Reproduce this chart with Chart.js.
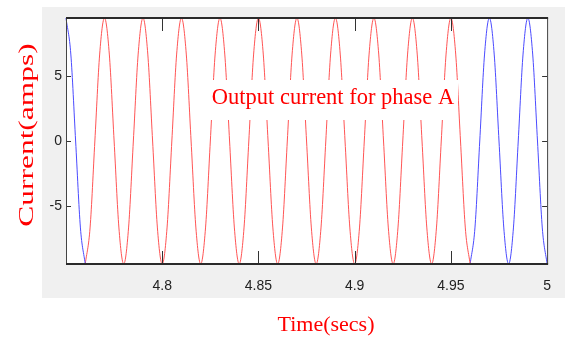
<!DOCTYPE html>
<html>
<head>
<meta charset="utf-8">
<script src="https://cdn.jsdelivr.net/npm/chart.js@4"></script>
<style>
  body { margin: 0; background: #fff; }
  #myChart { display: block; }
</style>
</head>
<body>
<canvas id="myChart" width="565" height="340"></canvas>
<script>
// Output current for phase A (50 Hz, ~9.45 A peak)
// one row = one period (0.02 s), sampled every 1/8 period
const time = [
  4.7500, 4.7525, 4.7550, 4.7575, 4.7600, 4.7625, 4.7650, 4.7675,
  4.7700, 4.7725, 4.7750, 4.7775, 4.7800, 4.7825, 4.7850, 4.7875,
  4.7900, 4.7925, 4.7950, 4.7975, 4.8000, 4.8025, 4.8050, 4.8075,
  4.8100, 4.8125, 4.8150, 4.8175, 4.8200, 4.8225, 4.8250, 4.8275,
  4.8300, 4.8325, 4.8350, 4.8375, 4.8400, 4.8425, 4.8450, 4.8475,
  4.8500, 4.8525, 4.8550, 4.8575, 4.8600, 4.8625, 4.8650, 4.8675,
  4.8700, 4.8725, 4.8750, 4.8775, 4.8800, 4.8825, 4.8850, 4.8875,
  4.8900, 4.8925, 4.8950, 4.8975, 4.9000, 4.9025, 4.9050, 4.9075,
  4.9100, 4.9125, 4.9150, 4.9175, 4.9200, 4.9225, 4.9250, 4.9275,
  4.9300, 4.9325, 4.9350, 4.9375, 4.9400, 4.9425, 4.9450, 4.9475,
  4.9500, 4.9525, 4.9550, 4.9575, 4.9600, 4.9625, 4.9650, 4.9675,
  4.9700, 4.9725, 4.9750, 4.9775, 4.9800, 4.9825, 4.9850, 4.9875,
  4.9900, 4.9925, 4.9950, 4.9975, 5.0000
];
const current = [
  9.45, 6.68, 0, -6.68, -9.45, -6.68, 0, 6.68,
  9.45, 6.68, 0, -6.68, -9.45, -6.68, 0, 6.68,
  9.45, 6.68, 0, -6.68, -9.45, -6.68, 0, 6.68,
  9.45, 6.68, 0, -6.68, -9.45, -6.68, 0, 6.68,
  9.45, 6.68, 0, -6.68, -9.45, -6.68, 0, 6.68,
  9.45, 6.68, 0, -6.68, -9.45, -6.68, 0, 6.68,
  9.45, 6.68, 0, -6.68, -9.45, -6.68, 0, 6.68,
  9.45, 6.68, 0, -6.68, -9.45, -6.68, 0, 6.68,
  9.45, 6.68, 0, -6.68, -9.45, -6.68, 0, 6.68,
  9.45, 6.68, 0, -6.68, -9.45, -6.68, 0, 6.68,
  9.45, 6.68, 0, -6.68, -9.45, -6.68, 0, 6.68,
  9.45, 6.68, 0, -6.68, -9.45, -6.68, 0, 6.68,
  9.45, 6.68, 0, -6.68, -9.45
];
// red part of the trace runs between these times, blue outside
const redStart = 4.76;
const redEnd = 4.96;

const xTicks = [4.8, 4.85, 4.9, 4.95, 5];
const xTickLabels = ['4.8', '4.85', '4.9', '4.95', '5'];
const yTicks = [-5, 0, 5];
const yTickLabels = ['-5', '0', '5'];
const xRange = [4.75, 5];
const yRange = [-9.45, 9.45];

const titleText = 'Output current for phase A';
const xTitle = 'Time(secs)';
const yTitle = 'Current(amps)';

const RED = 'rgb(255,85,85)';
const BLUE = 'rgb(75,75,255)';

function pts(from, to) {
  const out = [];
  for (let i = 0; i < time.length; i++) {
    if (time[i] >= from - 1e-9 && time[i] <= to + 1e-9) out.push({x: time[i], y: current[i]});
  }
  return out;
}

const lineStyle = {
  borderWidth: 1,
  pointRadius: 0,
  fill: false,
  cubicInterpolationMode: 'monotone',
  clip: 2
};

const scopeFrame = {
  id: 'scopeFrame',
  beforeDraw(chart) {
    const ctx = chart.ctx;
    const a = chart.chartArea;
    ctx.save();
    ctx.fillStyle = '#ffffff';
    ctx.fillRect(0, 0, chart.width, chart.height);
    ctx.fillStyle = '#f0f0f0';
    ctx.fillRect(42, 7, chart.width - 42, 291);
    ctx.fillStyle = '#ffffff';
    ctx.fillRect(a.left, a.top, a.right - a.left, a.bottom - a.top);
    ctx.restore();
  },
  afterDatasetsDraw(chart) {
    const ctx = chart.ctx;
    const a = chart.chartArea;
    const xs = chart.scales.x;
    const ys = chart.scales.y;
    ctx.save();
    // inward tick marks
    ctx.strokeStyle = '#333';
    ctx.lineWidth = 1;
    ctx.beginPath();
    xTicks.forEach(v => {
      const px = Math.round(xs.getPixelForValue(v)) + 0.5;
      if (px > a.right - 2) return;
      ctx.moveTo(px, a.bottom); ctx.lineTo(px, a.bottom - 13);
      ctx.moveTo(px, a.top); ctx.lineTo(px, a.top + 13);
    });
    yTicks.forEach(v => {
      const py = Math.round(ys.getPixelForValue(v)) + 0.5;
      ctx.moveTo(a.left, py); ctx.lineTo(a.left + 5, py);
      ctx.moveTo(a.right, py); ctx.lineTo(a.right - 5, py);
    });
    ctx.stroke();
    // box
    ctx.strokeStyle = '#444';
    ctx.lineWidth = 1;
    ctx.beginPath();
    ctx.moveTo(a.left + 0.5, a.top); ctx.lineTo(a.left + 0.5, a.bottom);
    ctx.moveTo(a.right + 0.5, a.top); ctx.lineTo(a.right + 0.5, a.bottom);
    ctx.stroke();
    ctx.strokeStyle = '#2a2a2a';
    ctx.lineWidth = 2;
    ctx.beginPath();
    ctx.moveTo(a.left, a.top); ctx.lineTo(a.right + 1, a.top);
    ctx.moveTo(a.left, a.bottom); ctx.lineTo(a.right + 1, a.bottom);
    ctx.stroke();

    // caption box inside the plot
    ctx.fillStyle = '#ffffff';
    ctx.fillRect(196, 80, 262, 40);
    ctx.fillStyle = 'red';
    ctx.font = '22.5px "Liberation Serif", "Times New Roman", serif';
    ctx.textAlign = 'center';
    ctx.textBaseline = 'alphabetic';
    ctx.fillText(titleText, 333, 104);

    // axis titles
    ctx.font = '22px "Liberation Serif", "Times New Roman", serif';
    ctx.textBaseline = 'middle';
    ctx.fillText(xTitle, 326, 325);
    ctx.translate(27, 135);
    ctx.rotate(-Math.PI / 2);
    ctx.scale(1.43, 1);
    ctx.fillText(yTitle, 0, 0);
    ctx.restore();
  }
};

const data = {
  datasets: [
    Object.assign({ data: pts(xRange[0], redStart), borderColor: BLUE }, lineStyle),
    Object.assign({ data: pts(redStart, redEnd), borderColor: RED }, lineStyle),
    Object.assign({ data: pts(redEnd, xRange[1]), borderColor: BLUE }, lineStyle)
  ]
};

const tickFont = { family: '"Liberation Sans Narrow", "Arial Narrow", sans-serif', size: 14 };

const config = {
  type: 'line',
  data: data,
  plugins: [scopeFrame],
  options: {
    responsive: false,
    animation: false,
    devicePixelRatio: 1,
    layout: { padding: { left: 0, top: 18, right: 14, bottom: 0 } },
    plugins: {
      legend: { display: false },
      title: { display: false },
      tooltip: { enabled: false }
    },
    scales: {
      x: {
        type: 'linear',
        min: xRange[0],
        max: xRange[1],
        afterFit: s => { s.height = 76; },
        afterBuildTicks: s => { s.ticks = xTicks.map(v => ({ value: v })); },
        grid: { display: true, drawOnChartArea: false, drawTicks: false },
        border: { display: false },
        ticks: {
          autoSkip: false,
          maxRotation: 0,
          padding: 14,
          color: '#222',
          font: tickFont,
          callback: v => xTickLabels[xTicks.findIndex(t => Math.abs(t - v) < 1e-6)]
        }
      },
      y: {
        min: yRange[0],
        max: yRange[1],
        afterFit: s => { s.width = 66; },
        afterBuildTicks: s => { s.ticks = yTicks.map(v => ({ value: v })); },
        grid: { display: true, drawOnChartArea: false, drawTicks: false },
        border: { display: false },
        ticks: {
          padding: 4,
          color: '#222',
          font: tickFont,
          callback: v => yTickLabels[yTicks.findIndex(t => Math.abs(t - v) < 1e-6)]
        }
      }
    }
  }
};

var myChart = new Chart(document.getElementById('myChart'), config);
</script>
</body>
</html>
